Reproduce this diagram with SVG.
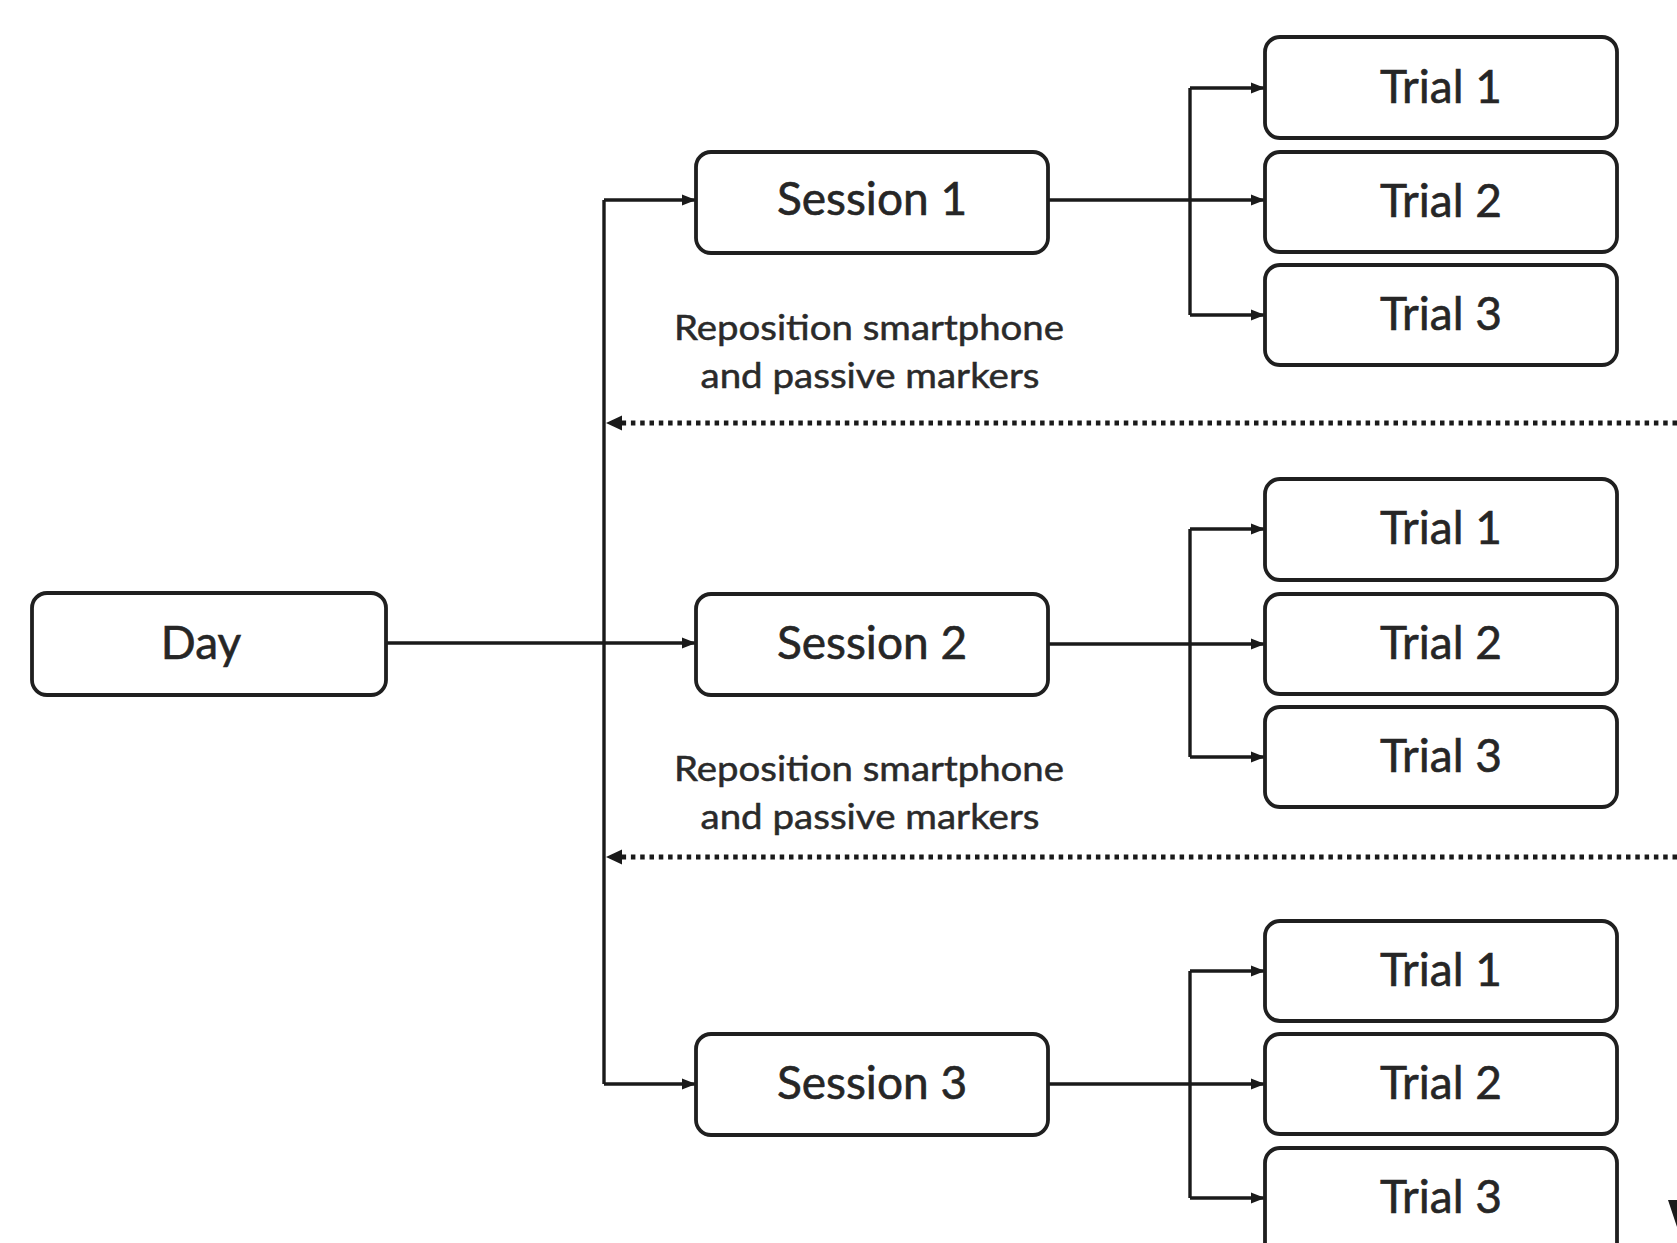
<svg xmlns="http://www.w3.org/2000/svg" width="1677" height="1243" viewBox="0 0 1677 1243">
<defs>
<marker id="arr" markerWidth="16" markerHeight="14" refX="14" refY="7" orient="auto" markerUnits="userSpaceOnUse">
<path d="M0,1.5 L14,7 L0,12.5 Z" fill="#1a1a1a"/>
</marker>
<style>
.box{fill:#ffffff;stroke:#1f1f1f;stroke-width:3.8}
.lbl{font-family:Lato,"Open Sans","Liberation Sans",sans-serif;font-size:46px;fill:#262626;text-anchor:middle;stroke:#262626;stroke-width:0.6}
.note{font-family:Lato,"Open Sans","Liberation Sans",sans-serif;font-size:35px;fill:#2a2a2a;text-anchor:middle;stroke:#2a2a2a;stroke-width:0.5}
.ln{fill:none;stroke:#1a1a1a;stroke-width:3.4}
.dot{fill:none;stroke:#1a1a1a;stroke-width:5;stroke-dasharray:4.5 4.8}
</style>
</defs>
<rect width="1677" height="1243" fill="#ffffff"/>
<g id="connectors">
<path class="ln" d="M386,643 H696" marker-end="url(#arr)"/>
<path class="ln" d="M604,200 V1084"/>
<path class="ln" d="M604,200 H696" marker-end="url(#arr)"/>
<path class="ln" d="M604,1084 H696" marker-end="url(#arr)"/>
<path class="ln" d="M1048,200 H1265" marker-end="url(#arr)"/>
<path class="ln" d="M1190,88 V315"/>
<path class="ln" d="M1190,88 H1265" marker-end="url(#arr)"/>
<path class="ln" d="M1190,315 H1265" marker-end="url(#arr)"/>
<path class="ln" d="M1048,644 H1265" marker-end="url(#arr)"/>
<path class="ln" d="M1190,529 V757"/>
<path class="ln" d="M1190,529 H1265" marker-end="url(#arr)"/>
<path class="ln" d="M1190,757 H1265" marker-end="url(#arr)"/>
<path class="ln" d="M1048,1084 H1265" marker-end="url(#arr)"/>
<path class="ln" d="M1190,971 V1198"/>
<path class="ln" d="M1190,971 H1265" marker-end="url(#arr)"/>
<path class="ln" d="M1190,1198 H1265" marker-end="url(#arr)"/>
<path class="dot" d="M1677,423 H620"/>
<path d="M606,423 L622,415.5 L622,430.5 Z" fill="#1a1a1a"/>
<path class="dot" d="M1677,857 H620"/>
<path d="M606,857 L622,849.5 L622,864.5 Z" fill="#1a1a1a"/>
<path d="M1668,1200 L1690,1200 L1677,1227 Z" fill="#1a1a1a"/>
</g>
<g id="day"><rect class="box" x="32" y="593" width="354" height="102" rx="15"/><text class="lbl" x="201" y="659">Day</text></g>
<g id="session1"><rect class="box" x="696" y="152" width="352" height="101" rx="15"/><text class="lbl" x="872" y="215">Session 1</text></g>
<g id="session2"><rect class="box" x="696" y="594" width="352" height="101" rx="15"/><text class="lbl" x="872" y="659">Session 2</text></g>
<g id="session3"><rect class="box" x="696" y="1034" width="352" height="101" rx="15"/><text class="lbl" x="872" y="1099">Session 3</text></g>
<g id="note1"><text class="note" x="869" y="340" textLength="390" lengthAdjust="spacingAndGlyphs">Reposition smartphone</text><text class="note" x="870" y="388" textLength="339" lengthAdjust="spacingAndGlyphs">and passive markers</text></g>
<g id="note2"><text class="note" x="869" y="781" textLength="390" lengthAdjust="spacingAndGlyphs">Reposition smartphone</text><text class="note" x="870" y="829" textLength="339" lengthAdjust="spacingAndGlyphs">and passive markers</text></g>
<g id="s1t1"><rect class="box" x="1265" y="37" width="352" height="101" rx="15"/><text class="lbl" x="1441" y="103">Trial 1</text></g>
<g id="s1t2"><rect class="box" x="1265" y="152" width="352" height="100" rx="15"/><text class="lbl" x="1441" y="217">Trial 2</text></g>
<g id="s1t3"><rect class="box" x="1265" y="265" width="352" height="100" rx="15"/><text class="lbl" x="1441" y="330">Trial 3</text></g>
<g id="s2t1"><rect class="box" x="1265" y="479" width="352" height="101" rx="15"/><text class="lbl" x="1441" y="544">Trial 1</text></g>
<g id="s2t2"><rect class="box" x="1265" y="594" width="352" height="100" rx="15"/><text class="lbl" x="1441" y="659">Trial 2</text></g>
<g id="s2t3"><rect class="box" x="1265" y="707" width="352" height="100" rx="15"/><text class="lbl" x="1441" y="772">Trial 3</text></g>
<g id="s3t1"><rect class="box" x="1265" y="921" width="352" height="100" rx="15"/><text class="lbl" x="1441" y="986">Trial 1</text></g>
<g id="s3t2"><rect class="box" x="1265" y="1034" width="352" height="100" rx="15"/><text class="lbl" x="1441" y="1099">Trial 2</text></g>
<g id="s3t3"><rect class="box" x="1265" y="1148" width="352" height="110" rx="15"/><text class="lbl" x="1441" y="1213">Trial 3</text></g>
</svg>
